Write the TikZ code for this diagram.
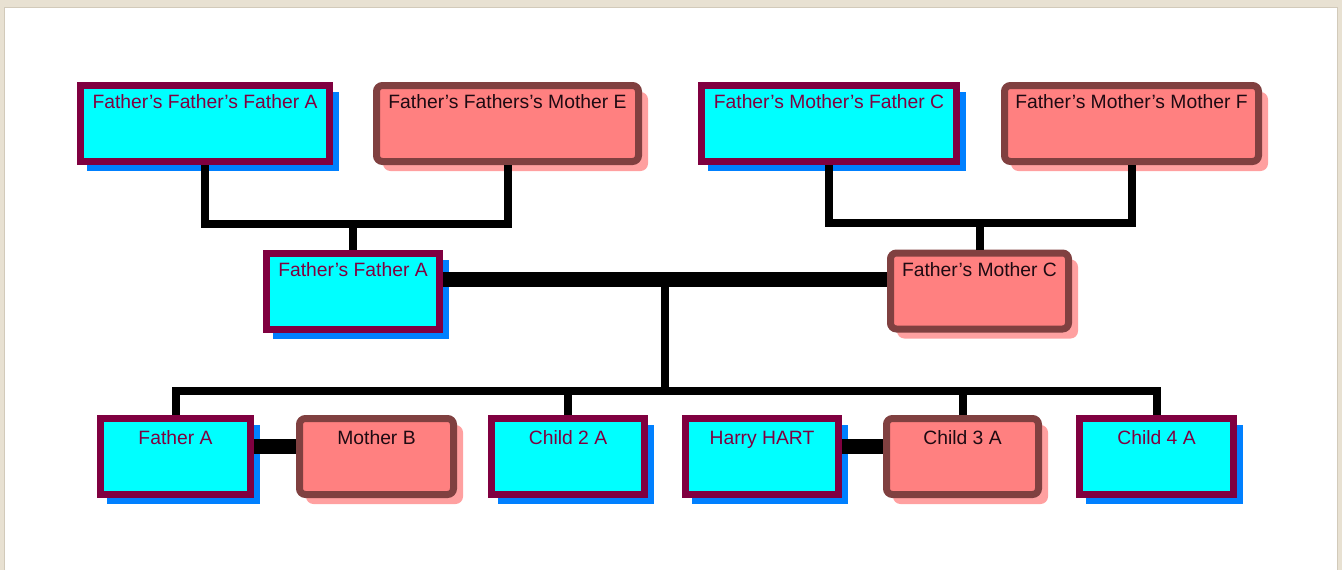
\documentclass[tikz,border=0pt]{standalone}
\usepackage{fontspec}
\setmainfont{Liberation Sans}
\usetikzlibrary{shadows,calc}
\definecolor{paper}{HTML}{E8E1D2}
\definecolor{paperedge}{HTML}{D2CABA}
\definecolor{malefill}{HTML}{00FFFF}
\definecolor{maleline}{HTML}{800040}
\definecolor{maleshadow}{HTML}{0080FF}
\definecolor{femalefill}{HTML}{FF8080}
\definecolor{femaleline}{HTML}{804040}
\definecolor{femaleshadow}{HTML}{FFA0A0}
\definecolor{femaletext}{HTML}{1E0A12}
\begin{document}
\begin{tikzpicture}[x=1pt,y=-1pt,
  person/.style={rectangle, line width=7pt, inner sep=0pt,
    text height=23pt, text depth=53pt,
    font=\fontsize{19.3}{22}\selectfont},
  lowtext/.style={text height=25.5pt, text depth=50.5pt},
  male/.style={person, draw=maleline, fill=malefill, text=maleline,
    general shadow={fill=maleshadow, draw=maleshadow, line width=3pt,
      shadow xshift=8pt, shadow yshift=-8pt}},
  female/.style={person, rounded corners=6pt, draw=femaleline,
    fill=femalefill, text=femaletext,
    general shadow={fill=femaleshadow, draw=femaleshadow, line width=3pt,
      shadow xshift=8pt, shadow yshift=-8pt}},
  link/.style={line width=8pt, black},
  couple/.style={line width=15pt, black}]

% page and white sheet
\useasboundingbox (0,0) rectangle (1342,570);
\fill[paper] (0,0) rectangle (1342,570);
\fill[white, draw=paperedge, line width=1pt] (4,7) rectangle (1337,571);

% great-grandparents
\node[male,   minimum width=249pt] (fffa) at (205,123.5)    {Father’s Father’s Father A};
\node[female, minimum width=262pt] (ffme) at (507.5,123.5)  {Father’s Fathers’s Mother E};
\node[male,   minimum width=255pt] (fmfc) at (829,123.5)    {Father’s Mother’s Father C};
\node[female, minimum width=254pt] (fmmf) at (1131.5,123.5) {Father’s Mother’s Mother F};

% grandparents
\node[male,   minimum width=173pt] (ffa) at (353,291)   {Father’s Father A};
\node[female, minimum width=178pt] (fmc) at (979.5,291) {Father’s Mother C};

% parents, children and spouses
\node[male,   lowtext, minimum width=150pt] (fa) at (175.5,456.5)  {Father A};
\node[female, lowtext, minimum width=154pt] (mb) at (376.5,456.5)  {Mother B};
\node[male,   lowtext, minimum width=153pt] (c2) at (568,456.5)    {Child 2 A};
\node[male,   lowtext, minimum width=153pt] (hh) at (762,456.5)    {Harry HART};
\node[female, lowtext, minimum width=152pt] (c3) at (962.5,456.5)  {Child 3 A};
\node[male,   lowtext, minimum width=154pt] (c4) at (1156.5,456.5) {Child 4 A};

% levels of the sibling bars
\coordinate (barA) at (0,224);
\coordinate (barB) at (0,223);
\coordinate (kids) at (0,391);

% father's father's family
\draw[link] (fffa.south) |- (ffme.south |- barA) -- (ffme.south);
\draw[link] (ffa.north) -- (ffa.north |- barA);

% father's mother's family
\draw[link] (fmfc.south) |- (fmmf.south |- barB) -- (fmmf.south);
\draw[link] (fmc.north) -- (fmc.north |- barB);

% grandparents' marriage and their children
\draw[couple] ([yshift=11.5pt]ffa.east) -- coordinate (mid) ([yshift=11.5pt]ffa.east -| fmc.west);
\draw[link] (mid) -- (mid |- kids);
\draw[link] (fa.north) |- (c4.north |- kids) -- (c4.north);
\draw[link] (c2.north) -- (c2.north |- kids);
\draw[link] (c3.north) -- (c3.north |- kids);

% marriages in the children's row
\draw[couple] ([yshift=10pt]fa.east) -- ([yshift=10pt]fa.east -| mb.west);
\draw[couple] ([yshift=10pt]hh.east) -- ([yshift=10pt]hh.east -| c3.west);
\end{tikzpicture}
\end{document}
